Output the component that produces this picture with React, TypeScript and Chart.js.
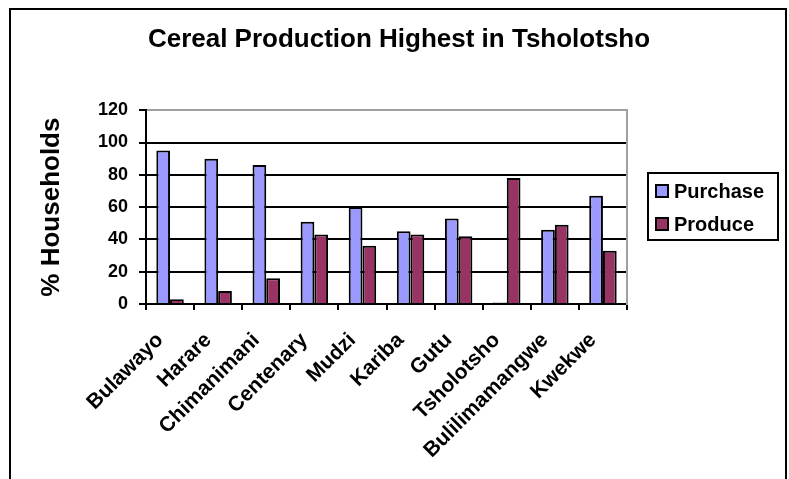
import React, { useEffect, useRef } from "react";
import { Chart, registerables } from "chart.js";

Chart.register(...registerables);

const categories = [
  "Bulawayo",
  "Harare",
  "Chimanimani",
  "Centenary",
  "Mudzi",
  "Kariba",
  "Gutu",
  "Tsholotsho",
  "Bulilimamangwe",
  "Kwekwe",
];
const purchase = [95, 90, 86, 51, 60, 45, 53, 1, 46, 67];
const produce = [3, 8, 16, 43, 36, 43, 42, 78, 49, 33];
const yTicks = [0, 20, 40, 60, 80, 100, 120];

const FONT = "'Liberation Sans', Arial, sans-serif";
const PURPLE = "#9999FF";
const PLUM = "#993366";

const framePlugin = {
  id: "frameAndLegend",
  beforeDraw(chart: any) {
    const ctx = chart.ctx;
    ctx.save();
    ctx.fillStyle = "#ffffff";
    ctx.fillRect(0, 0, chart.width, chart.height);
    ctx.restore();
  },
  afterDraw(chart: any) {
    const ctx = chart.ctx;
    ctx.save();
    // outer frame
    ctx.strokeStyle = "#000";
    ctx.lineWidth = 2;
    ctx.strokeRect(10, 9, 776, 490);
    // legend box
    const lx = 648, ly = 173, lw = 130, lh = 67;
    ctx.fillStyle = "#fff";
    ctx.fillRect(lx, ly, lw, lh);
    ctx.strokeRect(lx, ly, lw, lh);
    const ds = chart.data.datasets;
    ctx.font = `bold 20px ${FONT}`;
    ctx.textBaseline = "alphabetic";
    ctx.textAlign = "left";
    ds.forEach((d: any, i: number) => {
      const sy = 185 + i * 33;
      ctx.fillStyle = d.backgroundColor;
      ctx.fillRect(656, sy, 12, 12);
      ctx.lineWidth = 2;
      ctx.strokeStyle = "#000";
      ctx.strokeRect(656, sy, 12, 12);
      ctx.fillStyle = "#000";
      ctx.fillText(d.label, 674, sy + 13);
    });
    ctx.restore();
  },
};

export default function App() {
  const ref = useRef<HTMLCanvasElement | null>(null);
  useEffect(() => {
    const canvas = ref.current!;
    const chart = new Chart(canvas, {
      type: "bar",
      data: {
        labels: categories,
        datasets: [
          {
            label: "Purchase",
            data: purchase,
            backgroundColor: PURPLE,
            borderColor: "#000",
            borderWidth: 2,
            categoryPercentage: 0.571,
            barPercentage: 1,
          },
          {
            label: "Produce",
            data: produce,
            backgroundColor: PLUM,
            borderColor: "#000",
            borderWidth: 2,
            categoryPercentage: 0.571,
            barPercentage: 1,
          },
        ],
      },
      options: {
        responsive: false,
        animation: false,
        devicePixelRatio: 1,
        layout: { padding: { left: 10, right: 1, top: 12, bottom: 0 } },
        plugins: {
          legend: { display: false },
          tooltip: { enabled: false },
          title: {
            display: true,
            text: "Cereal Production Highest in Tsholotsho",
            color: "#000",
            font: { family: FONT, size: 26, weight: "bold" },
            padding: { top: 12, bottom: 55 },
          },
        },
        scales: {
          x: {
            type: "category",
            offset: true,
            grid: {
              offset: true,
              drawOnChartArea: false,
              drawTicks: true,
              tickLength: 6,
              tickColor: "#000",
              tickWidth: 2,
              color: "#000",
              lineWidth: 2,
            },
            border: { display: true, color: "#000", width: 2 },
            ticks: {
              autoSkip: false,
              maxRotation: 45,
              minRotation: 45,
              color: "#000",
              padding: 18,
              labelOffset: -10,
              font: { family: FONT, size: 21, weight: "bold" },
            },
            afterFit: (s: any) => {
              s.height = 175;
            },
          },
          y: {
            min: 0,
            max: 120,
            afterBuildTicks: (s: any) => {
              s.ticks = yTicks.map((v) => ({ value: v }));
            },
            grid: {
              color: (c: any) => (c.tick && c.tick.value === 120 ? "#a0a0a0" : "#000"),
              lineWidth: 2,
              tickLength: 7,
              tickColor: "#000",
              tickWidth: 2,
            },
            border: { display: true, color: "#000", width: 2 },
            ticks: {
              color: "#000",
              padding: 11,
              font: { family: FONT, size: 18, weight: "bold" },
            },
            title: {
              display: true,
              text: "% Households",
              color: "#000",
              font: { family: FONT, size: 26, weight: "bold" },
              padding: { top: 26, bottom: 0 },
            },
            afterFit: (s: any) => {
              s.width = 136;
            },
          },
          yR: {
            axis: "y",
            position: "right",
            min: 0,
            max: 1,
            ticks: { display: false },
            grid: { display: false, drawTicks: false, drawOnChartArea: false },
            border: { display: true, color: "#a0a0a0", width: 2 },
            afterFit: (s: any) => {
              s.width = 161;
            },
          },
        },
      } as any,
      plugins: [framePlugin],
    });
    return () => chart.destroy();
  }, []);

  return (
    <div style={{ position: "absolute", left: 0, top: 0, width: 789, height: 479, background: "#fff" }}>
      <canvas ref={ref} width={789} height={479} style={{ width: 789, height: 479 }} />
    </div>
  );
}
